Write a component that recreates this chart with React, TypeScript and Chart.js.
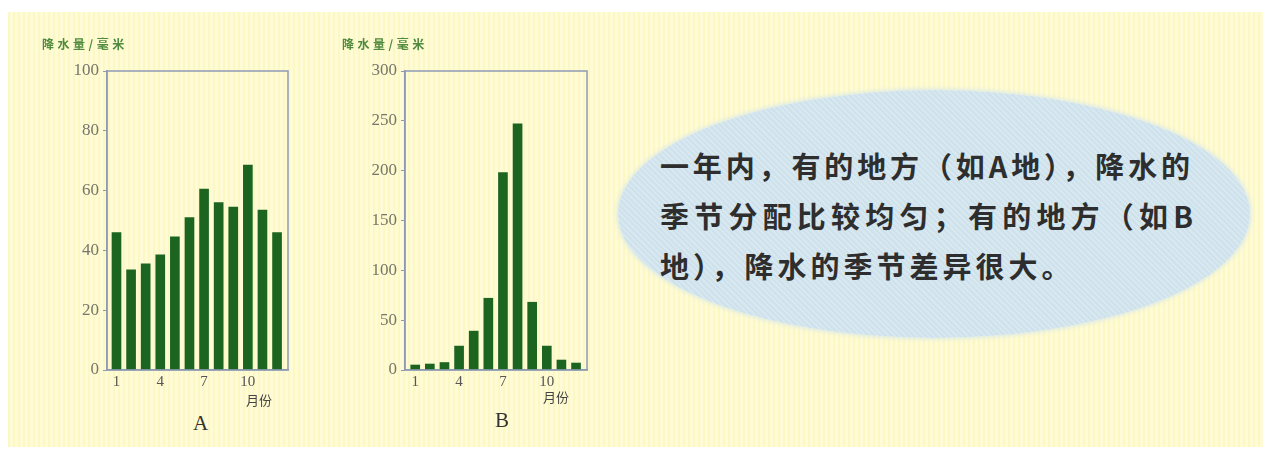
import React, { useEffect, useRef } from 'react';
import { Chart, registerables } from 'chart.js';

Chart.register(...registerables);

// ---------- data ----------
const months = [1, 2, 3, 4, 5, 6, 7, 8, 9, 10, 11, 12];
const monthTicks = [1, 4, 7, 10];
const precipA = [46, 33.5, 35.5, 38.5, 44.5, 51, 60.5, 56, 54.5, 68.5, 53.5, 46];
const precipB = [5, 6, 7.5, 24, 39, 72, 198, 247, 68, 24, 10, 7];
const yTicksA = [0, 20, 40, 60, 80, 100];
const yTicksB = [0, 50, 100, 150, 200, 250, 300];
const axisTitle = '降水量/毫米';
const monthLabel = '月份';
const chartNames = ['A', 'B'];
const captionLines = [
  '一年内，有的地方（如A地），降水的',
  '季节分配比较均匀；有的地方（如B',
  '地），降水的季节差异很大。',
];

// ---------- style ----------
const BAR = '#1b6520';
const FRAME = '#8e9bb5';
const SERIF = '"Liberation Serif", "DejaVu Serif", serif';
const CJK = '"Noto Sans CJK SC", "Noto Sans", sans-serif';

const framePlugin = {
  id: 'frame',
  afterDatasetsDraw(chart: any) {
    const { ctx, chartArea: a } = chart;
    ctx.save();
    ctx.strokeStyle = FRAME;
    ctx.lineWidth = 1.5;
    ctx.strokeRect(a.left, a.top, a.right - a.left, a.bottom - a.top);
    ctx.restore();
  },
};

type BarProps = {
  values: number[];
  yTicks: number[];
  xMin: number;
  xMax: number;
  left: number;
  top: number;
  width: number;
  height: number;
  plotLeft: number;
  plotRight: number;
  plotTop: number;
  plotBottom: number;
};

function PrecipChart(p: BarProps) {
  const ref = useRef<HTMLCanvasElement | null>(null);
  useEffect(() => {
    if (!ref.current) return;
    const chart = new Chart(ref.current, {
      type: 'bar',
      data: {
        datasets: [
          {
            data: months.map((m, i) => ({ x: m, y: p.values[i] })),
            backgroundColor: BAR,
            borderWidth: 0,
            barThickness: 9,
          },
        ],
      },
      options: {
        animation: false,
        responsive: false,
        maintainAspectRatio: false,
        devicePixelRatio: 1,
        layout: {
          padding: { left: 0, top: p.plotTop, right: p.width - p.plotRight, bottom: 0 },
        },
        plugins: { legend: { display: false }, tooltip: { enabled: false }, title: { display: false } },
        scales: {
          x: {
            type: 'linear',
            offset: false,
            min: p.xMin,
            max: p.xMax,
            grid: { display: false, drawTicks: false, offset: false },
            border: { display: true, color: FRAME, width: 1.5 },
            afterBuildTicks: (s: any) => {
              s.ticks = monthTicks.map((v) => ({ value: v }));
            },
            afterFit: (s: any) => {
              s.height = p.height - p.plotBottom;
            },
            ticks: {
              autoSkip: false,
              maxRotation: 0,
              padding: 3,
              color: '#555',
              font: { family: SERIF, size: 15 },
              callback: (v: any) => String(v),
            },
          },
          y: {
            type: 'linear',
            min: p.yTicks[0],
            max: p.yTicks[p.yTicks.length - 1],
            grid: {
              display: true,
              drawOnChartArea: false,
              drawTicks: true,
              tickLength: 4,
              color: FRAME,
              lineWidth: 1,
            },
            border: { display: true, color: FRAME, width: 1.5 },
            afterBuildTicks: (s: any) => {
              s.ticks = p.yTicks.map((v) => ({ value: v }));
            },
            afterFit: (s: any) => {
              s.width = p.plotLeft;
            },
            ticks: {
              padding: 4,
              color: '#76766a',
              font: { family: SERIF, size: 17 },
              callback: (v: any) => String(v),
            },
          },
        },
      },
      plugins: [framePlugin],
    } as any);
    return () => chart.destroy();
  }, []);
  return (
    <canvas
      ref={ref}
      width={p.width}
      height={p.height}
      style={{ position: 'absolute', left: p.left, top: p.top, width: p.width, height: p.height }}
    />
  );
}

const abs = (extra: React.CSSProperties): React.CSSProperties => ({
  position: 'absolute',
  whiteSpace: 'nowrap',
  ...extra,
});

export default function App() {
  useEffect(() => {
    document.body.style.margin = '0';
  }, []);

  const titleStyle: React.CSSProperties = {
    fontFamily: CJK,
    fontSize: 12,
    fontWeight: 700,
    letterSpacing: 3.5,
    color: '#4f8a3e',
    lineHeight: '14px',
  };
  const monthStyle: React.CSSProperties = {
    fontFamily: CJK,
    fontSize: 13,
    color: '#444',
    lineHeight: '14px',
  };
  const nameStyle: React.CSSProperties = {
    fontFamily: SERIF,
    fontSize: 21,
    color: '#333',
    lineHeight: '22px',
  };
  const captionStyle: React.CSSProperties = {
    fontFamily: CJK,
    fontSize: 29,
    fontWeight: 700,
    color: '#2e2e2e',
    lineHeight: '50px',
    height: 50,
  };

  return (
    <div style={{ position: 'absolute', left: 0, top: 0, width: 1265, height: 452, background: '#ffffff', overflow: 'hidden' }}>
      {/* yellow page */}
      <div
        style={{
          position: 'absolute',
          left: 8,
          top: 12,
          width: 1255,
          height: 435,
          background:
            'repeating-linear-gradient(90deg, #fcf8c4 0px, #fcf8c4 2px, #fefbd6 2px, #fefbd6 5px)',
        }}
      />
      {/* ellipse */}
      <div
        style={{
          position: 'absolute',
          left: 618,
          top: 90,
          width: 632,
          height: 248,
          borderRadius: '50%',
          background:
            'repeating-linear-gradient(45deg, #d8e8f0 0px, #d8e8f0 2px, #cfe2ec 2px, #cfe2ec 4px)',
          boxShadow: '0 0 4px 1px rgba(212,230,238,0.9)',
        }}
      />
      <PrecipChart
        values={precipA}
        yTicks={yTicksA}
        xMin={0.35}
        xMax={12.75}
        left={30}
        top={30}
        width={280}
        height={380}
        plotLeft={77}
        plotRight={258}
        plotTop={41}
        plotBottom={340}
      />
      <PrecipChart
        values={precipB}
        yTicks={yTicksB}
        xMin={0.3}
        xMax={12.75}
        left={330}
        top={30}
        width={280}
        height={380}
        plotLeft={75}
        plotRight={257}
        plotTop={41}
        plotBottom={340}
      />
      <div style={abs({ left: 42, top: 37, ...titleStyle })}>{axisTitle}</div>
      <div style={abs({ left: 342, top: 37, ...titleStyle })}>{axisTitle}</div>
      <div style={abs({ left: 246, top: 393, ...monthStyle })}>{monthLabel}</div>
      <div style={abs({ left: 543, top: 390, ...monthStyle })}>{monthLabel}</div>
      <div style={abs({ left: 193, top: 412, ...nameStyle })}>{chartNames[0]}</div>
      <div style={abs({ left: 495, top: 409, ...nameStyle })}>{chartNames[1]}</div>
      {/* caption */}
      <div
        style={abs({
          left: 660,
          top: 140,
          width: 530,
          textAlign: 'justify',
          textAlignLast: 'justify',
          ...captionStyle,
        } as React.CSSProperties)}
      >
        {captionLines[0]}
      </div>
      <div
        style={abs({
          left: 660,
          top: 190,
          width: 533,
          textAlign: 'justify',
          textAlignLast: 'justify',
          ...captionStyle,
        } as React.CSSProperties)}
      >
        {captionLines[1]}
      </div>
      <div style={abs({ left: 660, top: 240, letterSpacing: 4, ...captionStyle })}>{captionLines[2]}</div>
    </div>
  );
}
